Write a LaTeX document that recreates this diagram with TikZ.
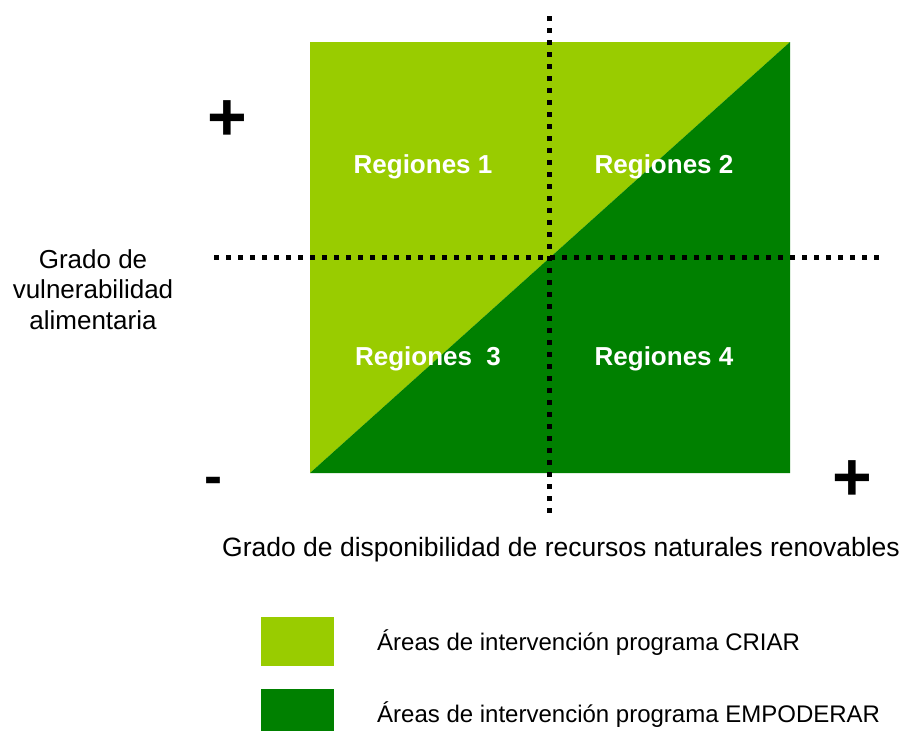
\documentclass[tikz,border=0pt]{standalone}
\usepackage{fontspec}
\setmainfont{Liberation Sans}
\definecolor{lightg}{HTML}{99CC00}
\definecolor{darkg}{HTML}{008000}
\tikzset{
  dotline/.style={line width=5pt, dash pattern=on 5pt off 7pt, black},
  reglabel/.style={anchor=base, text=white, font=\fontsize{26}{30}\selectfont\bfseries, inner sep=0pt},
  axislabel/.style={font=\fontsize{26}{30.5}\selectfont, inner sep=0pt},
  signlabel/.style={font=\fontsize{68}{68}\selectfont\bfseries, inner sep=0pt},
  legtext/.style={anchor=base west, font=\fontsize{24}{28}\selectfont, inner sep=0pt},
}
\begin{document}
\begin{tikzpicture}[x=1pt,y=-1pt]
\useasboundingbox (0,0) rectangle (902,731);
% quadrant square
\coordinate (bl) at (310,473);
\coordinate (tl) at (310,42);
\coordinate (tr) at (790,42);
\coordinate (br) at (790,473);
\fill[lightg] (bl) -- (tl) -- (tr) -- cycle;
\fill[darkg] (bl) -- (tr) -- (br) -- cycle;
% dotted axes
\coordinate (vtop) at (549,16);
\coordinate (vbot) at (549,516);
\coordinate (hl) at (214,257);
\coordinate (hr) at (882,257);
\draw[dotline] (vtop) -- (vbot);
\draw[dotline] (hl) -- (hr);
% region labels
\node[reglabel] (r1) at (423,173) {Regiones 1};
\node[reglabel] (r2) at (664,173) {Regiones 2};
\node[reglabel] (r3) at (428,365) {Regiones\ \ 3};
\node[reglabel] (r4) at (664,365) {Regiones 4};
% signs
\node[signlabel] (plusy) at (227,121) {+};
\node[signlabel, font=\fontsize{54}{54}\selectfont\bfseries] (minusx) at (213,486) {-};
\node[signlabel] (plusx) at (852,481) {+};
% axis labels
\node[axislabel, anchor=base, align=center] (ylab) at (93,329) {Grado de\\vulnerabilidad\\alimentaria};
\node[axislabel, anchor=base west, font=\fontsize{26.5}{30}\selectfont] (xlab) at (222,556) {Grado de disponibilidad de recursos naturales renovables};
% legend
\fill[lightg] (261,617) rectangle (334,666);
\fill[darkg] (261,689) rectangle (334,731);
\node[legtext] (l1) at (377,650) {Áreas de intervención programa CRIAR};
\node[legtext] (l2) at (377,722) {Áreas de intervención programa EMPODERAR};
\end{tikzpicture}
\end{document}
